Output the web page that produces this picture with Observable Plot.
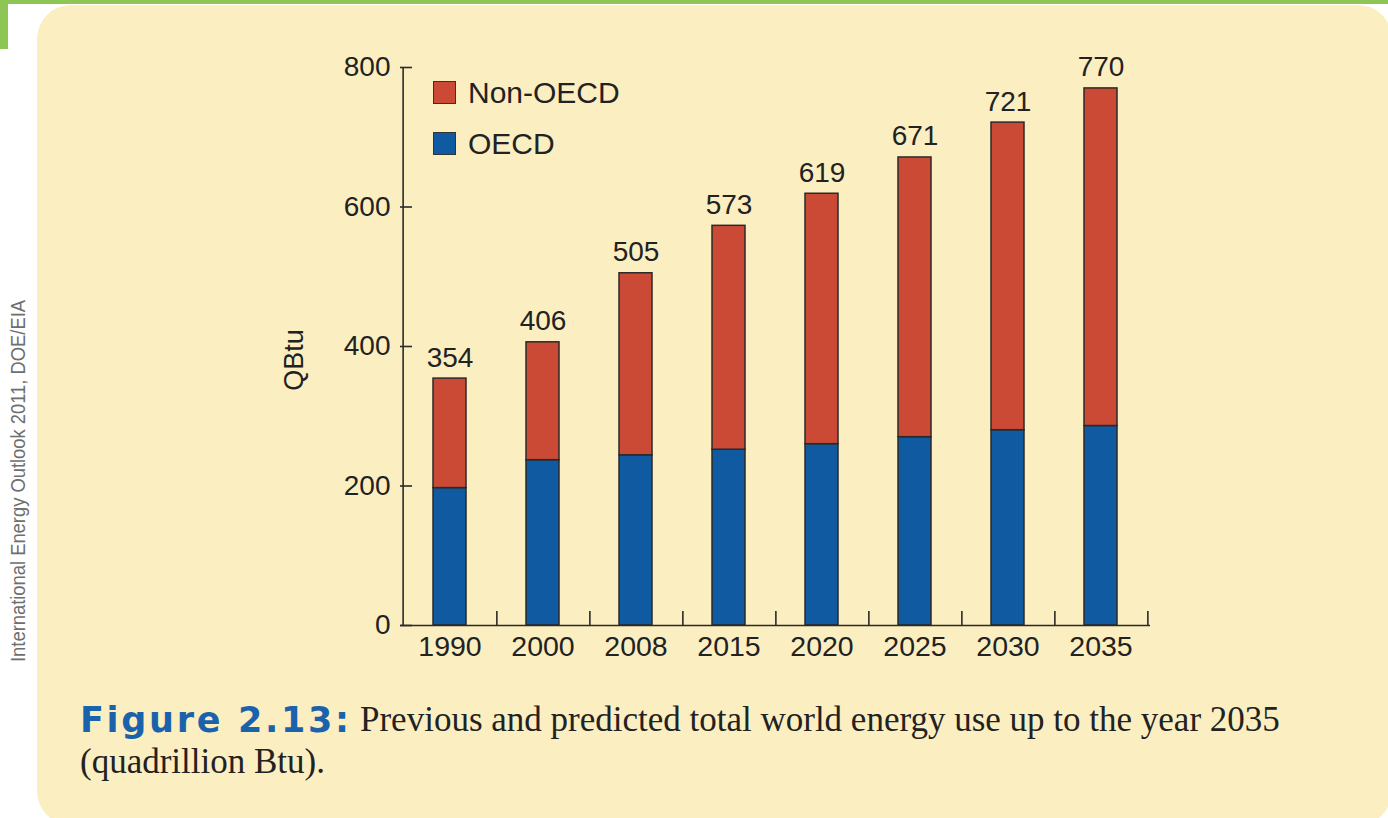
<!DOCTYPE html>
<html>
<head>
<meta charset="utf-8">
<script src="https://cdn.jsdelivr.net/npm/d3@7"></script>
<script src="https://cdn.jsdelivr.net/npm/@observablehq/plot@0.6"></script>
<style>
  html, body { margin: 0; padding: 0; background: #ffffff; width: 1388px; height: 818px; overflow: hidden; position: relative; font-family: "Liberation Sans", Arial, sans-serif; }
  .green-top { position: absolute; left: 0; top: 0; width: 1388px; height: 4px; background: #8dc655; }
  .green-left { position: absolute; left: 0; top: 0; width: 8px; height: 49px; background: #8dc655; }
  .panel { position: absolute; left: 37px; top: 5px; width: 1355px; height: 820px; background: #fbeec1; border-radius: 34px; }
  #chart { position: absolute; left: 0; top: 0; }
  .legend { position: absolute; left: 433px; top: 79px; font-size: 30px; color: #222; }
  .legend .row { display: flex; align-items: center; height: 27px; margin-bottom: 24px; }
  .legend .sw { width: 21px; height: 21px; border: 1.5px solid #333; margin-right: 12px; }
  .ylabel { position: absolute; left: 294px; top: 360px; transform: translate(-50%, -50%) rotate(-90deg); font-size: 27px; color: #222; white-space: nowrap; }
  .fig { position: absolute; left: 80px; top: 699px; line-height: 42px; font-family: "DejaVu Sans", sans-serif; font-weight: bold; color: #1b62ad; font-size: 35px; letter-spacing: 2.7px; white-space: nowrap; }
  .cap { position: absolute; line-height: 42px; color: #222; font-family: "Liberation Serif", "Times New Roman", serif; font-size: 35px; white-space: nowrap; }
  .cap1 { left: 360px; top: 699px; }
  .cap2 { left: 80px; top: 741px; }
  #side { position: absolute; left: 0; top: 0; }
</style>
</head>
<body>
<div class="green-top"></div>
<div class="green-left"></div>
<div class="panel"></div>
<svg id="side" width="40" height="818">
  <text id="sideText" transform="translate(25,662) rotate(-90)" font-family="Liberation Sans Narrow, Liberation Sans, Arial, sans-serif" font-size="21" fill="#6e6e6e" textLength="362" lengthAdjust="spacingAndGlyphs">International Energy Outlook 2011, DOE/EIA</text>
</svg>
<div id="chart"></div>
<div class="legend" id="legend"></div>
<div class="ylabel">QBtu</div>
<div class="fig">Figure 2.13:</div>
<div class="cap cap1">Previous and predicted total world energy use up to the year 2035</div>
<div class="cap cap2">(quadrillion Btu).</div>
<script>
const years = ["1990", "2000", "2008", "2015", "2020", "2025", "2030", "2035"];
const totals = [354, 406, 505, 573, 619, 671, 721, 770];
const oecd = [197, 237, 244, 252, 260, 270, 280, 286];
const yTicks = [0, 200, 400, 600, 800];
const seriesNames = ["OECD", "Non-OECD"];
const seriesColors = ["#0f5aa0", "#cb4a36"];
const legendOrder = ["Non-OECD", "OECD"];

const rows = years.flatMap((year, i) => [
  {year, series: "OECD", value: oecd[i]},
  {year, series: "Non-OECD", value: totals[i] - oecd[i]}
]);
const totalRows = years.map((year, i) => ({year, total: totals[i]}));

const W = 1388, H = 700, ML = 400, MR = 238, MT = 67, MB = 75;
const plotW = W - ML - MR;
const half = plotW / years.length / 2;
const ink = "#2a2a2a";

const chart = Plot.plot({
  width: W, height: H,
  marginLeft: ML, marginRight: MR, marginTop: MT, marginBottom: MB,
  style: {background: "transparent", fontFamily: "Liberation Sans, Arial, sans-serif", color: "#222", overflow: "visible"},
  x: {type: "band", domain: years, paddingInner: 0.64, paddingOuter: 0.32, label: null},
  y: {domain: [0, 800], label: null},
  color: {domain: seriesNames, range: seriesColors},
  marks: [
    Plot.barY(rows, {x: "year", y: "value", fill: "series", stroke: ink, strokeWidth: 1.5}),
    Plot.ruleY([0], {stroke: ink, strokeWidth: 1.6}),
    Plot.ruleX([years[0]], {x: d => d, dx: -half, y1: () => 0, y2: () => 800, stroke: ink, strokeWidth: 1.6}),
    Plot.ruleX(years, {x: d => d, dx: half, y1: () => 0, y2: () => 20, stroke: ink, strokeWidth: 1.6}),
    Plot.tickY(yTicks, {y: d => d, insetRight: plotW - 12, stroke: ink, strokeWidth: 1.6}),
    Plot.axisY({ticks: yTicks, tickSize: 0, tickPadding: 10, fontSize: 28, label: null}),
    Plot.axisX({tickSize: 0, tickPadding: 10, fontSize: 28.5, label: null}),
    Plot.text(totalRows, {x: "year", y: "total", text: d => String(d.total), dy: -21, fontSize: 28, fill: "#222"})
  ]
});
document.getElementById("chart").appendChild(chart);

const legend = document.getElementById("legend");
legendOrder.forEach(name => {
  const row = document.createElement("div");
  row.className = "row";
  const sw = document.createElement("div");
  sw.className = "sw";
  sw.style.background = seriesColors[seriesNames.indexOf(name)];
  const label = document.createElement("span");
  label.textContent = name;
  row.appendChild(sw);
  row.appendChild(label);
  legend.appendChild(row);
});
</script>
</body>
</html>
